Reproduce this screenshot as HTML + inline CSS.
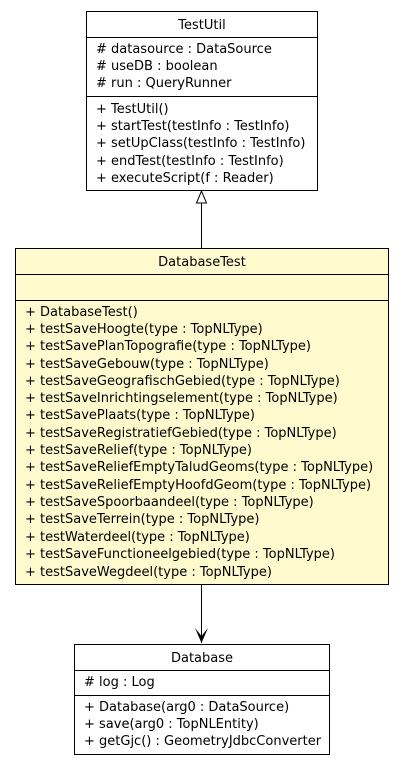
<!DOCTYPE html>
<html><head><style>body{margin:0;background:#fff}svg{display:block}</style></head><body>
<svg width="403" height="765" xmlns="http://www.w3.org/2000/svg" font-family="'DejaVu Sans', sans-serif" font-size="13" fill="#000">
<rect x="86.5" y="11.5" width="231" height="179" fill="#fff" stroke="#000"/>
<line x1="86" y1="37.5" x2="318" y2="37.5" stroke="#000"/>
<line x1="86" y1="96.5" x2="318" y2="96.5" stroke="#000"/>
<text x="202" y="29" text-anchor="middle">TestUtil</text>
<text>
<tspan x="96" y="53"># datasource : DataSource</tspan>
<tspan x="96" y="70"># useDB : boolean</tspan>
<tspan x="96" y="87"># run : QueryRunner</tspan>
<tspan x="96" y="113">+ TestUtil()</tspan>
<tspan x="96" y="130">+ startTest(testInfo : TestInfo)</tspan>
<tspan x="96" y="147">+ setUpClass(testInfo : TestInfo)</tspan>
<tspan x="96" y="165">+ endTest(testInfo : TestInfo)</tspan>
<tspan x="96" y="182">+ executeScript(f : Reader)</tspan>
</text>
<line x1="201.5" y1="203" x2="201.5" y2="248" stroke="#000"/>
<polygon points="201.5,191 196.5,203 206.5,203" fill="#fff" stroke="#000"/>
<rect x="15.5" y="248.5" width="373" height="336" fill="#fffacd" stroke="#000"/>
<line x1="15" y1="274.5" x2="389" y2="274.5" stroke="#000"/>
<line x1="15" y1="300.5" x2="389" y2="300.5" stroke="#000"/>
<text x="202" y="266" text-anchor="middle">DatabaseTest</text>
<text>
<tspan x="25" y="316">+ DatabaseTest()</tspan>
<tspan x="25" y="333">+ testSaveHoogte(type : TopNLType)</tspan>
<tspan x="25" y="350">+ testSavePlanTopografie(type : TopNLType)</tspan>
<tspan x="25" y="368">+ testSaveGebouw(type : TopNLType)</tspan>
<tspan x="25" y="385">+ testSaveGeografischGebied(type : TopNLType)</tspan>
<tspan x="25" y="402">+ testSaveInrichtingselement(type : TopNLType)</tspan>
<tspan x="25" y="419">+ testSavePlaats(type : TopNLType)</tspan>
<tspan x="25" y="437">+ testSaveRegistratiefGebied(type : TopNLType)</tspan>
<tspan x="25" y="454">+ testSaveRelief(type : TopNLType)</tspan>
<tspan x="25" y="471">+ testSaveReliefEmptyTaludGeoms(type : TopNLType)</tspan>
<tspan x="25" y="489">+ testSaveReliefEmptyHoofdGeom(type : TopNLType)</tspan>
<tspan x="25" y="506">+ testSaveSpoorbaandeel(type : TopNLType)</tspan>
<tspan x="25" y="523">+ testSaveTerrein(type : TopNLType)</tspan>
<tspan x="25" y="541">+ testWaterdeel(type : TopNLType)</tspan>
<tspan x="25" y="558">+ testSaveFunctioneelgebied(type : TopNLType)</tspan>
<tspan x="25" y="576">+ testSaveWegdeel(type : TopNLType)</tspan>
</text>
<line x1="201.5" y1="585" x2="201.5" y2="643" stroke="#000"/>
<path d="M195,628 L201.5,643 L208,628 L201.5,636 Z" fill="#000"/>
<rect x="74.5" y="644.5" width="255" height="110" fill="#fff" stroke="#000"/>
<line x1="74" y1="670.5" x2="330" y2="670.5" stroke="#000"/>
<line x1="74" y1="695.5" x2="330" y2="695.5" stroke="#000"/>
<text x="202" y="662" text-anchor="middle">Database</text>
<text>
<tspan x="84" y="686"># log : Log</tspan>
<tspan x="84" y="711">+ Database(arg0 : DataSource)</tspan>
<tspan x="84" y="728">+ save(arg0 : TopNLEntity)</tspan>
<tspan x="84" y="745">+ getGjc() : GeometryJdbcConverter</tspan>
</text>
</svg>
</body></html>
